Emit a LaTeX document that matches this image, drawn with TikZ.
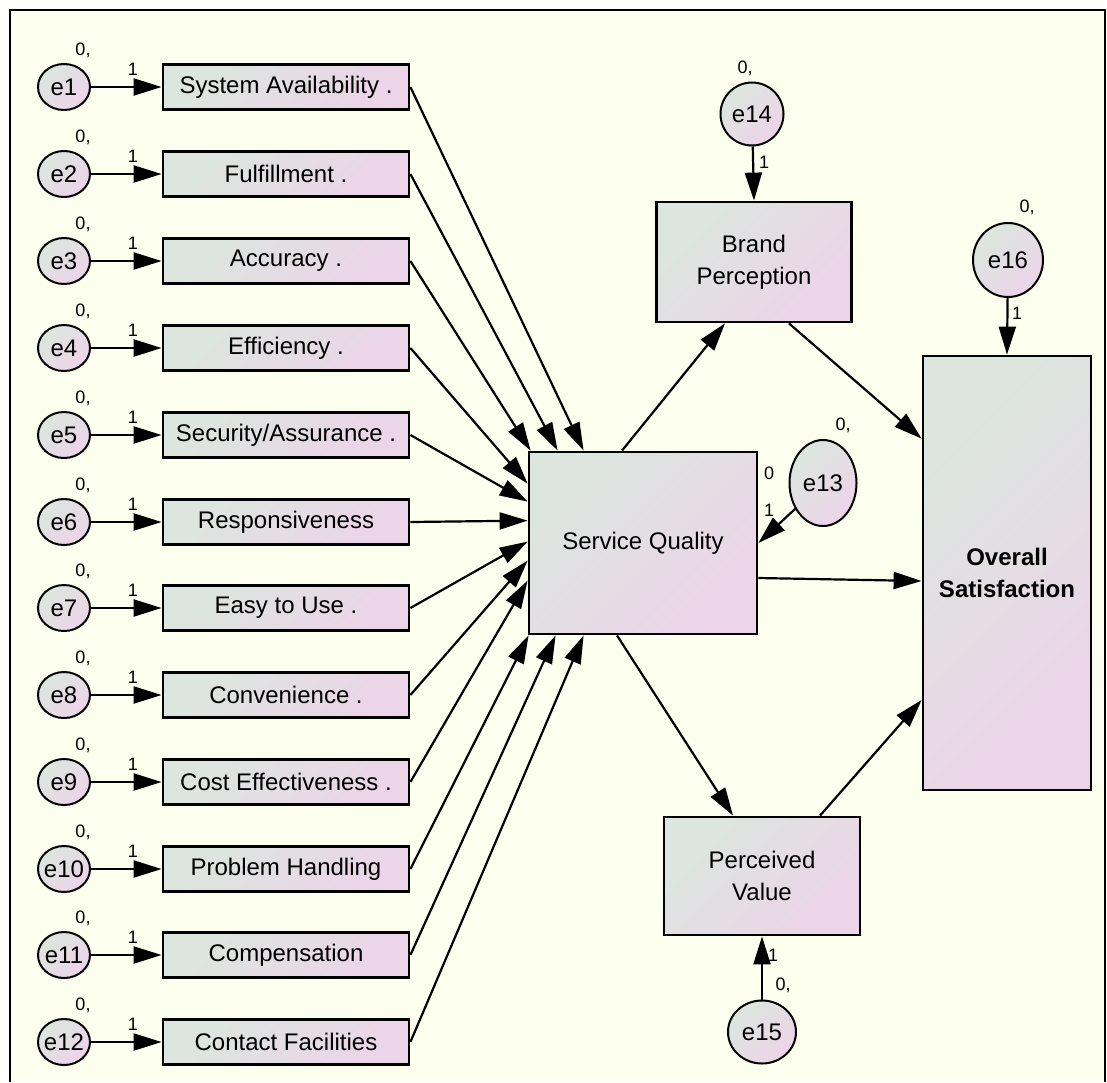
\documentclass[tikz,border=0pt]{standalone}
\usepackage{fontspec}
\setmainfont{Liberation Sans}
\usetikzlibrary{positioning, shapes.geometric, arrows.meta}

\definecolor{amosbg}{RGB}{253,255,238}
\definecolor{amosgreen}{RGB}{220,230,222}
\definecolor{amospink}{RGB}{236,212,233}

\tikzset{
  obsbox/.style={draw=black, line width=2.8pt, top color=amosgreen, bottom color=amospink,
    shading angle=45, inner sep=0pt, align=center, font=\fontsize{24}{32}\selectfont},
  indbox/.style={obsbox, minimum width=246pt, minimum height=45pt},
  errnode/.style={ellipse, draw=black, line width=2pt, top color=amosgreen, bottom color=amospink,
    shading angle=45, inner sep=-4pt, font=\fontsize{24}{28}\selectfont},
  smallerr/.style={errnode, minimum width=52pt, minimum height=46pt},
  parlabel/.style={inner sep=0pt, font=\fontsize{18}{20}\selectfont},
  regarrow/.style={-{Triangle[length=28pt,width=17pt]}, line width=2.2pt}
}

\begin{document}
\begin{tikzpicture}[x=1pt, y=-1pt]
      \useasboundingbox (0,0) rectangle (1107,1082);
      \fill[amosbg] (10,10) rectangle (1107,1082);
      \draw[line width=2pt] (10,1082) -- (10,10) -- (1105,10) -- (1105,1082);

      % Central constructs
      \node[obsbox, minimum width=228pt, minimum height=182pt] (sq) at (643,543) {Service Quality};
      \node[obsbox, minimum width=195pt, minimum height=120pt] (bp) at (754,262) {Brand\\Perception};
      \node[obsbox, minimum width=196pt, minimum height=118pt] (pv) at (762,876) {Perceived\\Value};
      \node[obsbox, minimum width=168pt, minimum height=434pt, font=\fontsize{24}{32}\selectfont\bfseries] (os) at (1007,573) {Overall\\Satisfaction};

      % Indicators
      \node[smallerr] (e1) at (64,87) {e1};
      \node[indbox] (sysavail) at (286,87) {System Availability .};
      \node[parlabel] (var1) at (83,50) {0,};
      \node[parlabel] (load1) at (133,69) {1};

      \node[smallerr] (e2) at (64,174) {e2};
      \node[indbox] (fulfil) at (286,174) {Fulfillment .};
      \node[parlabel] (var2) at (83,137) {0,};
      \node[parlabel] (load2) at (133,156) {1};

      \node[smallerr] (e3) at (64,261) {e3};
      \node[indbox] (accuracy) at (286,261) {Accuracy .};
      \node[parlabel] (var3) at (83,224) {0,};
      \node[parlabel] (load3) at (133,243) {1};

      \node[smallerr] (e4) at (64,348) {e4};
      \node[indbox] (efficiency) at (286,348) {Efficiency .};
      \node[parlabel] (var4) at (83,311) {0,};
      \node[parlabel] (load4) at (133,330) {1};

      \node[smallerr] (e5) at (64,435) {e5};
      \node[indbox] (security) at (286,435) {Security/Assurance .};
      \node[parlabel] (var5) at (83,398) {0,};
      \node[parlabel] (load5) at (133,417) {1};

      \node[smallerr] (e6) at (64,522) {e6};
      \node[indbox] (respons) at (286,522) {Responsiveness};
      \node[parlabel] (var6) at (83,485) {0,};
      \node[parlabel] (load6) at (133,504) {1};

      \node[smallerr] (e7) at (64,608) {e7};
      \node[indbox] (easyuse) at (286,608) {Easy to Use .};
      \node[parlabel] (var7) at (83,571) {0,};
      \node[parlabel] (load7) at (133,590) {1};

      \node[smallerr] (e8) at (64,695) {e8};
      \node[indbox] (conven) at (286,695) {Convenience .};
      \node[parlabel] (var8) at (83,658) {0,};
      \node[parlabel] (load8) at (133,677) {1};

      \node[smallerr] (e9) at (64,782) {e9};
      \node[indbox] (costeff) at (286,782) {Cost Effectiveness .};
      \node[parlabel] (var9) at (83,745) {0,};
      \node[parlabel] (load9) at (133,764) {1};

      \node[smallerr] (e10) at (64,869) {e10};
      \node[indbox] (problem) at (286,869) {Problem Handling};
      \node[parlabel] (var10) at (83,832) {0,};
      \node[parlabel] (load10) at (133,851) {1};

      \node[smallerr] (e11) at (64,955) {e11};
      \node[indbox] (compens) at (286,955) {Compensation};
      \node[parlabel] (var11) at (83,918) {0,};
      \node[parlabel] (load11) at (133,937) {1};

      \node[smallerr] (e12) at (64,1042) {e12};
      \node[indbox] (contact) at (286,1042) {Contact Facilities};
      \node[parlabel] (var12) at (83,1005) {0,};
      \node[parlabel] (load12) at (133,1024) {1};

      \draw[regarrow] (e1) -- (sysavail);
      \draw[regarrow] (e2) -- (fulfil);
      \draw[regarrow] (e3) -- (accuracy);
      \draw[regarrow] (e4) -- (efficiency);
      \draw[regarrow] (e5) -- (security);
      \draw[regarrow] (e6) -- (respons);
      \draw[regarrow] (e7) -- (easyuse);
      \draw[regarrow] (e8) -- (conven);
      \draw[regarrow] (e9) -- (costeff);
      \draw[regarrow] (e10) -- (problem);
      \draw[regarrow] (e11) -- (compens);
      \draw[regarrow] (e12) -- (contact);

      % Indicators into service quality
      \draw[regarrow] (sysavail.east) -- ([xshift=56pt]sq.north west);
      \draw[regarrow] (fulfil.east) -- ([xshift=30pt]sq.north west);
      \draw[regarrow] (accuracy.east) -- ([xshift=3pt]sq.north west);
      \draw[regarrow] (efficiency.east) -- ([yshift=-33pt]sq.north west);
      \draw[regarrow] (security.east) -- ([yshift=-51pt]sq.north west);
      \draw[regarrow] (respons.east) -- ([yshift=-70pt]sq.north west);
      \draw[regarrow] (easyuse.east) -- ([yshift=-91pt]sq.north west);
      \draw[regarrow] (conven.east) -- ([yshift=-110pt]sq.north west);
      \draw[regarrow] (costeff.east) -- ([yshift=-130pt]sq.north west);
      \draw[regarrow] (problem.east) -- ([xshift=1pt]sq.south west);
      \draw[regarrow] (compens.east) -- ([xshift=28pt]sq.south west);
      \draw[regarrow] (contact.east) -- ([xshift=56pt]sq.south west);

      % Error terms of the constructs
      \node[errnode, minimum width=67pt, minimum height=86pt] (e13) at (823,483) {e13};
      \node[errnode, minimum width=63pt, minimum height=63pt] (e14) at (752,114) {e14};
      \node[errnode, minimum width=68pt, minimum height=63pt] (e15) at (762,1032) {e15};
      \node[errnode, minimum width=70pt, minimum height=74pt] (e16) at (1008,260) {e16};

      \node[parlabel] (var13) at (843,425) {0,};
      \node[parlabel] (mean13) at (769,473) {0};
      \node[parlabel] (load13) at (769,510) {1};
      \node[parlabel] (var14) at (745,68) {0,};
      \node[parlabel] (load14) at (764,162) {1};
      \node[parlabel] (load15) at (773,955) {1};
      \node[parlabel] (var15) at (783,985) {0,};
      \node[parlabel] (var16) at (1027,207) {0,};
      \node[parlabel] (load16) at (1017,313) {1};

      \draw[regarrow] (e13) -- (sq.east);
      \draw[regarrow] (e14) -- (bp.north);
      \draw[regarrow] (e15) -- (pv.south);
      \draw[regarrow] (e16) -- (os.north);

      % Structural paths
      \draw[regarrow] ([xshift=-21pt]sq.north) -- ([xshift=-29pt]bp.south);
      \draw[regarrow] ([xshift=35pt]bp.south) -- ([yshift=-84pt]os.north west);
      \draw[regarrow] ([yshift=-35pt]sq.east) -- ([yshift=-8pt]os.west);
      \draw[regarrow] ([xshift=-26pt]sq.south) -- ([xshift=-29pt]pv.north);
      \draw[regarrow] ([xshift=58pt]pv.north) -- ([yshift=-127pt]os.west);
    \end{tikzpicture}
\end{document}
